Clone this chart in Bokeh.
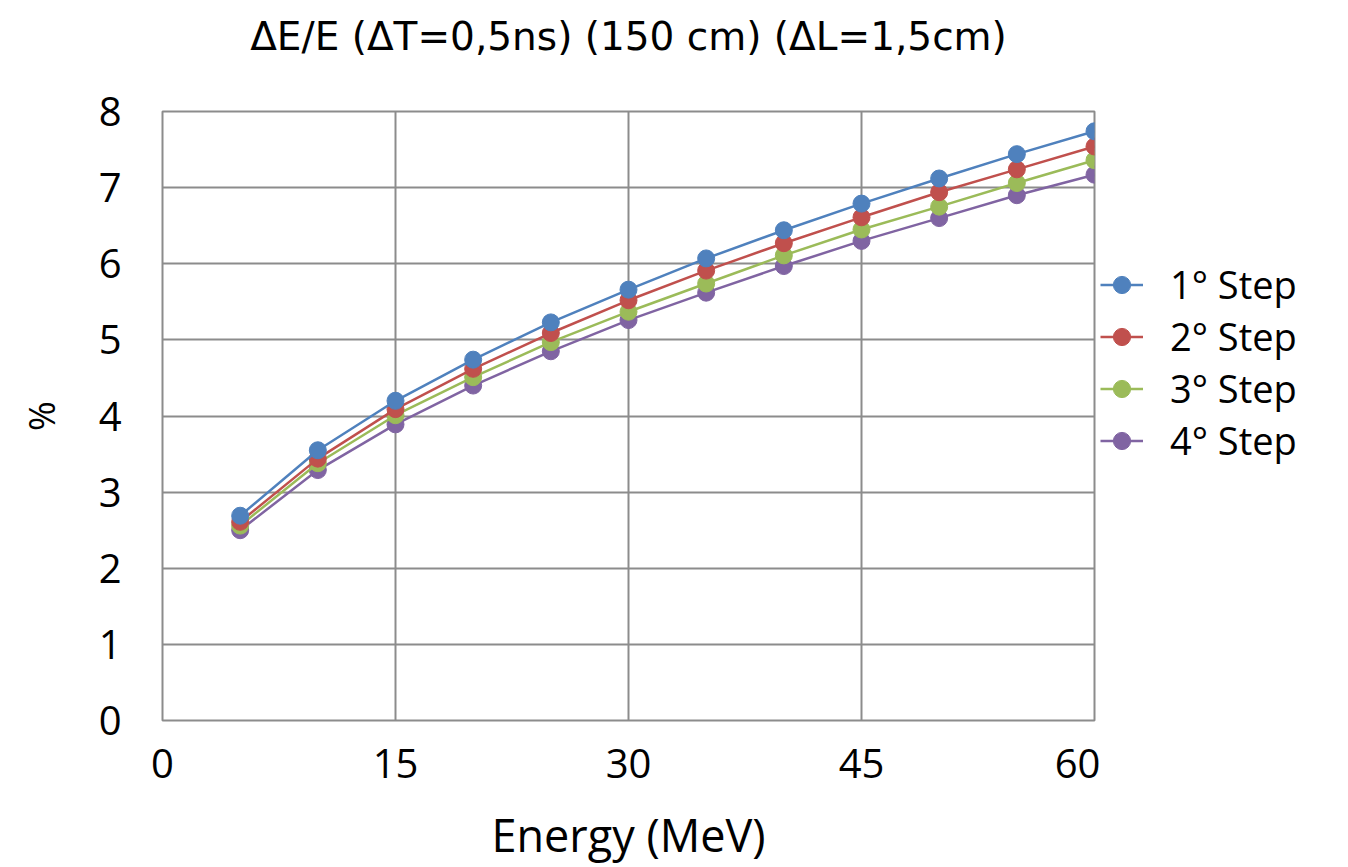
from bokeh.plotting import figure
from bokeh.models import Range1d, FixedTicker, Legend, LegendItem, Title
from bokeh.layouts import row
from bokeh.embed import file_html
from bokeh.resources import INLINE

energy = [5, 10, 15, 20, 25, 30, 35, 40, 45, 50, 55, 60]
step1 = [2.69, 3.55, 4.20, 4.74, 5.23, 5.66, 6.07, 6.44, 6.79, 7.12, 7.44, 7.74]
step2 = [2.61, 3.44, 4.09, 4.62, 5.09, 5.52, 5.91, 6.27, 6.61, 6.94, 7.24, 7.54]
step3 = [2.56, 3.38, 4.01, 4.51, 4.97, 5.37, 5.74, 6.11, 6.45, 6.75, 7.06, 7.36]
step4 = [2.50, 3.29, 3.89, 4.40, 4.85, 5.26, 5.62, 5.97, 6.30, 6.60, 6.90, 7.17]
series_names = ["1° Step", "2° Step", "3° Step", "4° Step"]
colors = ["#4F81BD", "#C0504D", "#9BBB59", "#8064A2"]
x_ticks = [0, 15, 30, 45, 60]
y_ticks = [0, 1, 2, 3, 4, 5, 6, 7, 8]

FONT = "Open Sans"
GRID = "#8C8C8C"

p = figure(width=1100, height=867, output_backend="svg", toolbar_location=None,
           x_range=Range1d(0, 60), y_range=Range1d(0, 8),
           min_border_left=162, min_border_right=6,
           min_border_top=111, min_border_bottom=146)

# spacer between frame and title (keeps the title high above the frame)
p.add_layout(Title(text=" ", text_font_size="10px", standoff=40), "above")
p.title.text = "ΔE/E (ΔT=0,5ns) (150 cm) (ΔL=1,5cm)"
p.title.align = "center"
p.title.text_font = "DejaVu Sans"
p.title.text_font_size = "39px"
p.title.text_font_style = "normal"
p.title.text_color = "black"
p.title.standoff = 0

p.outline_line_color = GRID
p.outline_line_width = 2
p.background_fill_color = "white"
p.border_fill_color = "white"

p.xaxis.ticker = FixedTicker(ticks=x_ticks)
p.yaxis.ticker = FixedTicker(ticks=y_ticks)
p.xgrid.ticker = FixedTicker(ticks=x_ticks)
p.ygrid.ticker = FixedTicker(ticks=y_ticks)
for g in (p.xgrid, p.ygrid):
    g.grid_line_color = GRID
    g.grid_line_width = 2
    g.grid_line_alpha = 1.0

for ax in (p.xaxis, p.yaxis):
    ax.axis_line_color = None
    ax.major_tick_line_color = None
    ax.minor_tick_line_color = None
    ax.major_label_text_font = FONT
    ax.major_label_text_font_size = "40px"
    ax.major_label_text_color = "black"
    ax.axis_label_text_font = FONT
    ax.axis_label_text_font_style = "normal"
    ax.axis_label_text_color = "black"

p.xaxis.major_label_standoff = 22
p.yaxis.major_label_standoff = 35
p.xaxis.axis_label = "Energy (MeV)"
p.xaxis.axis_label_text_font_size = "45px"
p.xaxis.axis_label_standoff = 23
p.yaxis.axis_label = "%"
p.yaxis.axis_label_text_font_size = "36px"
p.yaxis.axis_label_standoff = 30

data = [step1, step2, step3, step4]
for i in [3, 2, 1, 0]:
    p.line(energy, data[i], line_color=colors[i], line_width=2.5)
    p.scatter(energy, data[i], size=17, fill_color=colors[i], line_color=colors[i])

# legend panel to the right of the chart (its series lie outside its view)
pl = figure(width=240, height=867, output_backend="svg", toolbar_location=None,
            x_axis_location=None, y_axis_location=None,
            x_range=Range1d(-2, -1), y_range=Range1d(-2, -1),
            min_border_left=0, min_border_right=0,
            min_border_top=0, min_border_bottom=0)
pl.xgrid.visible = False
pl.ygrid.visible = False
pl.outline_line_color = None
pl.background_fill_color = "white"
pl.border_fill_color = "white"
items = []
for i in range(4):
    ln = pl.line(energy, data[i], line_color=colors[i], line_width=2.5)
    sc = pl.scatter(energy, data[i], size=17, fill_color=colors[i], line_color=colors[i])
    items.append(LegendItem(label=series_names[i], renderers=[ln, sc]))

legend = Legend(items=items, location="top_left",
                title=" ", title_text_font_size="10px", title_standoff=136,
                glyph_width=43, glyph_height=51, label_height=51,
                label_standoff=27, spacing=0, padding=2, margin=0,
                border_line_color=None, background_fill_alpha=0,
                label_text_font=FONT, label_text_font_size="38px",
                label_text_color="black")
pl.add_layout(legend)

layout = row(p, pl)
open("out.html", "w").write(file_html(layout, INLINE))
